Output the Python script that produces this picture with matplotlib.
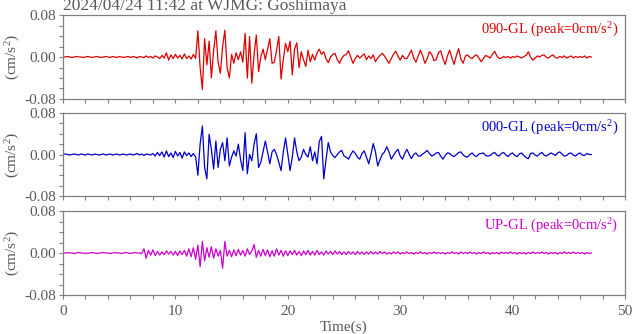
import numpy as np
import matplotlib
matplotlib.use("Agg")
import matplotlib.pyplot as plt
from matplotlib.ticker import MultipleLocator, FormatStrFormatter

plt.rcParams['font.family'] = ['Liberation Serif', 'DejaVu Serif']
plt.rcParams['mathtext.fontset'] = 'custom'
plt.rcParams['mathtext.rm'] = 'Liberation Serif'
plt.rcParams['mathtext.it'] = 'Liberation Serif:italic'
plt.rcParams['axes.unicode_minus'] = False

title = "2024/04/24 11:42 at WJMG: Goshimaya"
channels = ["090-GL", "000-GL", "UP-GL"]
peaks = [0, 0, 0]
dt = 0.2  # sampling of the read-off trace (s)

# acceleration values, in 1e-3 cm/s^2, every 0.2 s from 0 s to 47 s
ew_milli = [
    0, 0, 1, 0, -1, 0, 1, 0, 0, -1,
    0, 1, 0, -1, 0, 1, 0, -1, 0, 1,
    0, -1, 1, 0, -1, 1, 0, -1, 0, 1,
    -1, 1, 0, -2, 1, 0, -1, 2, -1, 1,
    -2, 2, 0, -3, 3, -2, 8, -6, 4, -3,
    5, -2, 3, -4, 6, -3, 2, -4, 5, -3,
    50, -20, -62, 35, -15, 30, -40, 12, 50, -10,
    -31, 20, 51, -20, -40, 5, -12, 8, -5, 10,
    -10, 45, -40, 39, -50, 5, 42, -28, 0, 15,
    -5, 15, 35, -12, -10, 13, 39, -42, -5, 26,
    10, 30, -34, 15, 27, -20, 10, -5, -18, 13,
    -9, 5, -6, 8, 15, 5, 10, -3, -11, 0,
    5, 7, -5, -12, -2, 3, 5, 12, 0, -12,
    -3, 3, -2, 2, 6, -5, 2, -3, 4, -9,
    -2, 3, 7, 2, -5, -12, -3, 5, 11, 2,
    -6, 3, -3, -3, 5, 13, -2, -10, 2, 13,
    2, -12, -3, 10, 5, -7, -5, 8, 12, -3,
    -14, 2, 13, -2, -14, 3, 16, -4, -12, 2,
    4, -1, -3, 2, 4, -2, -9, -3, 3, 1,
    -2, 5, 11, 2, -3, -2, 1, -1, 1, -2,
    1, -1, 2, 0, -2, 1, 3, 10, 0, -6,
    -2, 2, 0, 3, 4, -1, -2, 2, 4, -1,
    -2, 1, -1, 2, -2, 0, 2, -2, 1, -1,
    1, -1, 2, -2, 1, 0,
]

ns_milli = [
    0, 1, 0, -1, 0, 1, 0, -1, 1, 0,
    -1, 1, 0, -1, 1, 0, -1, 0, 1, -1,
    0, 1, -1, 0, 1, -1, 0, 1, -1, 0,
    1, -1, 0, 2, -1, 1, -2, 1, 0, -1,
    2, -3, 4, -2, 5, -5, 7, -4, 3, -6,
    6, -3, 4, -7, 5, -2, 3, -4, 2, -5,
    -40, 20, 55, -25, -47, 39, 10, -28, 26, -25,
    10, 23, -12, 32, -22, -5, 7, -3, 20, -10,
    -31, 42, -37, 0, -12, 20, 40, -25, -15, 5,
    26, 5, -18, 5, 10, 0, -15, -31, 5, 32,
    0, -31, -5, 32, 5, -12, -5, 10, 0, -5,
    15, -12, 5, -18, 25, 35, -47, -10, 23, 5,
    -2, -6, 0, 5, 8, -3, -5, -9, 0, 7,
    2, -5, -9, 2, 7, -5, -18, 0, 21, 5,
    -22, -10, 0, 5, 15, 5, -9, -2, 5, 10,
    -3, -9, 2, 10, 0, -8, 0, 3, -3, -3,
    1, 4, 8, 2, -3, -1, 3, 4, -3, -9,
    -2, 3, 2, -2, -4, 0, 4, 5, -1, -4,
    -5, 0, 3, -2, -4, 1, 2, 3, -2, -3,
    -2, 2, 4, -1, -3, 2, 4, -1, -4, 1,
    3, -2, -4, 1, 3, -2, -6, -8, 2, 3,
    -1, -3, 1, 4, -1, -3, 0, 3, 1, -2,
    3, 5, 1, -3, -2, 2, 3, -1, -3, 1,
    3, -1, -2, 2, 0, 0,
]

ud_milli = [
    0, 0, 1, 0, 0, -1, 0, 1, 0, 0,
    -1, 0, 0, 1, 0, -1, 0, 0, 1, 0,
    0, -1, 0, 1, 0, 0, -1, 0, 1, 0,
    -1, 0, 1, 0, 0, -1, 8, -10, 5, -4,
    6, -5, 3, -4, 2, -3, 4, -2, 3, -4,
    3, -5, 4, -3, 5, -6, 8, -7, 10, -12,
    15, -26, 22, -15, 10, -8, 12, -10, 8, -6,
    5, -29, 22, -6, 5, -7, 6, -5, 7, -4,
    5, -6, 8, -3, 4, 16, -8, 5, -6, 7,
    -5, 6, -7, 4, -6, 8, -4, 5, -6, 4,
    -5, 4, -3, 5, -4, 3, -5, 4, -3, 5,
    -4, 3, -4, 5, -3, 2, -4, 4, -2, 3,
    -3, 4, -2, 3, -3, 2, -3, 3, -2, 2,
    -3, 3, -2, 2, -3, 2, -2, 3, -2, 2,
    -2, 3, -1, 2, -2, 1, -2, 2, -1, 2,
    -2, 1, -1, 2, -1, 1, -2, 1, -1, 2,
    -1, 1, -2, 1, -1, 2, -1, 1, -1, 1,
    -2, 1, -1, 2, -1, 1, -2, 2, -1, 1,
    -1, 2, -1, 1, -2, 1, -1, 2, -1, 1,
    -2, 1, -1, 1, -2, 2, -1, 1, -1, 2,
    -1, 1, -2, 1, -1, 1, -2, 1, -1, 2,
    -1, 1, -1, 2, -1, 1, -2, 1, -1, 1,
    -2, 1, -1, 2, -1, 1, -1, 2, -1, 1,
    -1, 1, -2, 1, -1, 0,
]

traces = [ew_milli, ns_milli, ud_milli]
colors = ["#dd0000", "#0000cc", "#cc00cc"]

W, H = 633, 334
fig = plt.figure(figsize=(W / 100, H / 100), dpi=100)

panel_px = [(15, 99), (113, 196), (211, 295)]
left_px, right_px = 63, 625
gray_text = "#5a5a5a"
gray_axis = "#808080"

for i, (vals, col, ch, pk) in enumerate(zip(traces, colors, channels, peaks)):
    top, bot = panel_px[i]
    ax = fig.add_axes([left_px / W, (H - bot) / H, (right_px - left_px) / W, (bot - top) / H])
    acc = np.array(vals, dtype=float) / 1000.0
    t = np.arange(len(acc)) * dt
    ax.plot(t, acc, color=col, lw=0.9)
    ax.set_xlim(0, 50)
    ax.set_ylim(-0.08, 0.08)
    ax.xaxis.set_major_locator(MultipleLocator(10))
    ax.xaxis.set_minor_locator(MultipleLocator(2))
    ax.yaxis.set_major_locator(MultipleLocator(0.08))
    ax.yaxis.set_minor_locator(MultipleLocator(0.02))
    ax.yaxis.set_major_formatter(FormatStrFormatter('%.2f'))
    ax.tick_params(which='both', direction='out', length=3, width=0.8,
                   color=gray_axis, labelcolor=gray_text, labelsize=11,
                   top=False, right=False, pad=2)
    ax.tick_params(axis='x', pad=4)
    for s in ax.spines.values():
        s.set_color(gray_axis)
        s.set_linewidth(0.9)
    if i < 2:
        ax.tick_params(axis='x', labelbottom=False)
    else:
        ax.set_xlabel("Time(s)", color=gray_text, fontsize=11, labelpad=2)
    ax.set_ylabel("(cm/s$^2$)", color=gray_text, fontsize=11, labelpad=2)
    ax.text(0.988, 0.93, f"{ch} (peak={pk}cm/s$^2$)", transform=ax.transAxes,
            ha='right', va='top', color=col, fontsize=10.5)

fig.text(63 / W, (H - 10.5) / H, title, ha='left', va='baseline',
         color=gray_text, fontsize=12.5)

fig.savefig("out.png", dpi=100)
